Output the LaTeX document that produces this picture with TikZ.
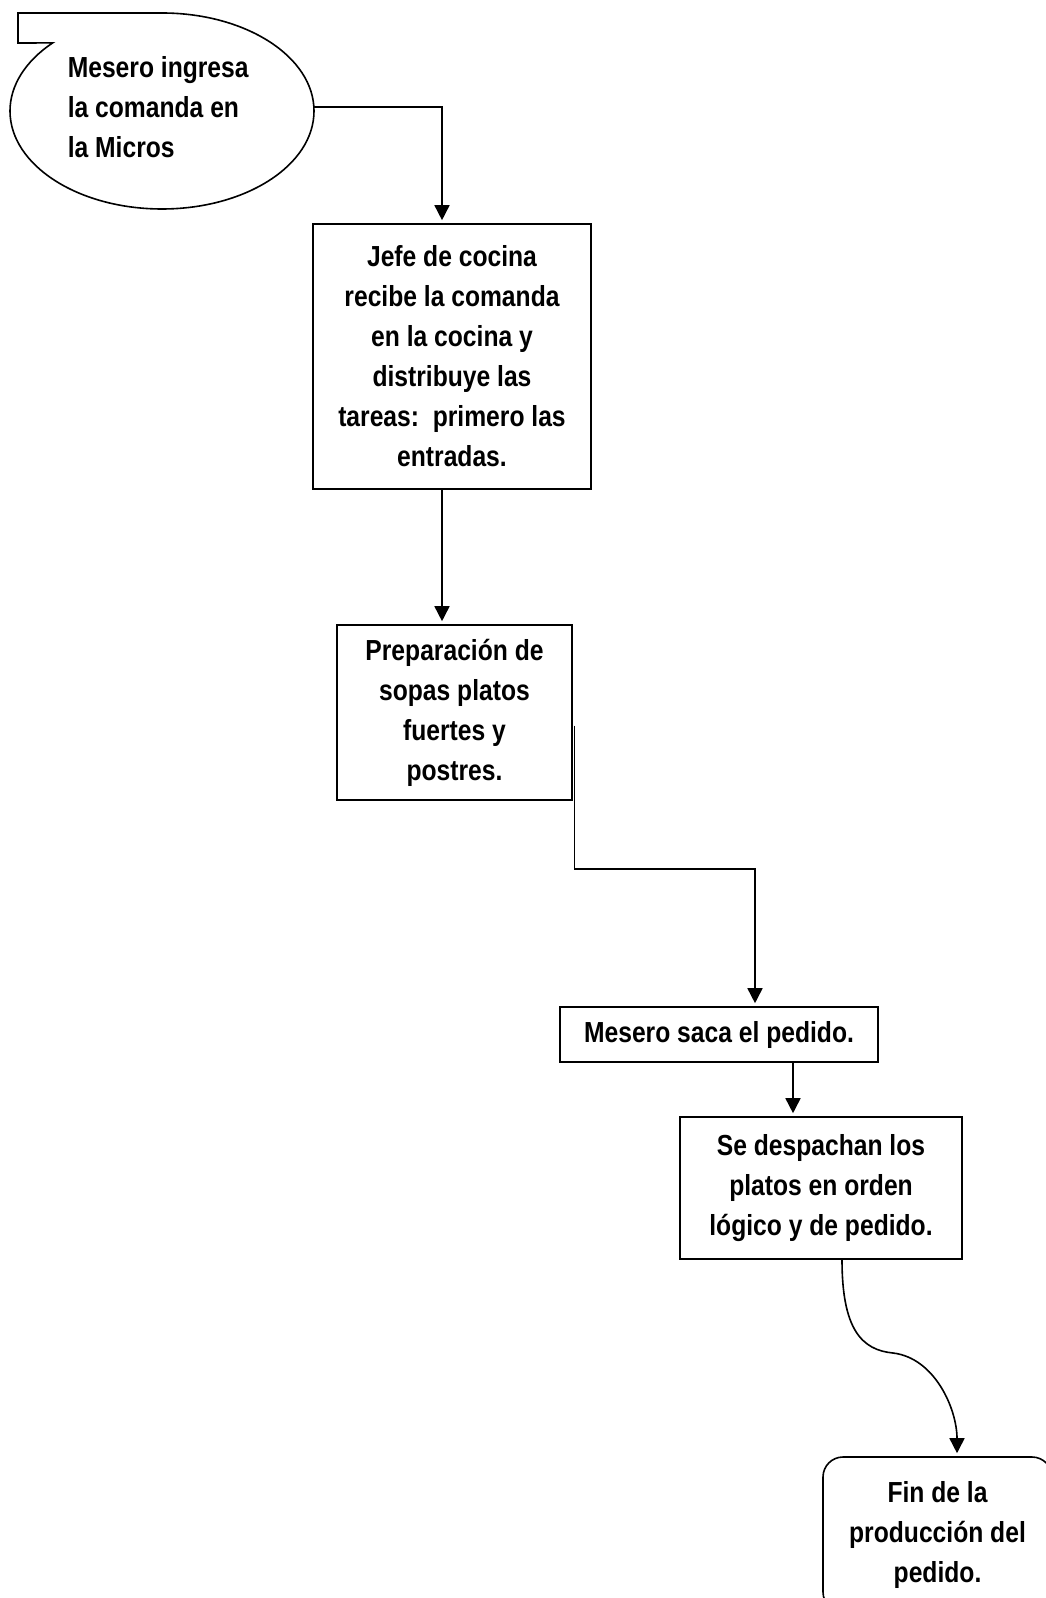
\documentclass[tikz,border=0pt]{standalone}
\usepackage{fontspec}
\setmainfont{Liberation Sans}[FakeStretch=0.85]
\usetikzlibrary{arrows.meta}
\begin{document}
\begin{tikzpicture}[x=0.5pt,y=0.5pt, line width=0.8pt,
  every node/.style={font=\bfseries\fontsize{14.5pt}{20pt}\selectfont},
  procbox/.style={draw, rectangle, inner sep=0pt, align=center},
  endbox/.style={draw, rectangle, rounded corners=10pt, inner sep=0pt, align=center},
  arr/.style={-{Triangle[length=7.5pt,width=7.5pt]}, shorten >=1.5pt}]
\useasboundingbox (0,0) rectangle (1045,-1598);
% callout
\draw (18,-13) -- (162,-13) arc[start angle=90, end angle=-224, x radius=152, y radius=98] -- (18,-43) -- cycle;
\node[anchor=west, align=left, inner sep=0pt] (c1) at (67,-107) {Mesero ingresa\\la comanda en\\la Micros};
\coordinate (c1e) at (314,-107);
\coordinate (j1) at (442,0);
\coordinate (j3) at (793,0);
\coordinate (k2) at (755,-869);
\coordinate (j4) at (842,0);
\coordinate (j5) at (957,0);
\coordinate (m4) at (893,-1353);
% boxes
\node[procbox, minimum width=139pt, minimum height=132.5pt] (b1) at (452,-356.5)
  {Jefe de cocina\\recibe la comanda\\en la cocina y\\distribuye las\\tareas:\ \ primero las\\entradas.};
\node[procbox, minimum width=117.5pt, minimum height=87.5pt] (b2) at (454.5,-712.5)
  {Preparación de\\sopas platos\\fuertes y\\postres.};
\node[procbox, minimum width=159pt, minimum height=27.5pt] (b3) at (719,-1034.5)
  {Mesero saca el pedido.};
\node[procbox, minimum width=141pt, minimum height=71pt] (b4) at (821,-1188)
  {Se despachan los\\platos en orden\\lógico y de pedido.};
\node[endbox, minimum width=114.5pt, minimum height=77.5pt] (fin) at (937.5,-1534.5)
  {Fin de la\\producción del\\pedido.};
% connectors
\draw[arr] (c1e) -| (b1.north -| j1);
\draw[arr] (b1.south -| j1) -- (b2.north -| j1);
\draw[arr] ([xshift=0.75pt,yshift=-6.5pt]b2.east) |- (k2) -- (b3.north -| k2);
\draw[arr] (b3.south -| j3) -- (b4.north -| j3);
\draw[arr] (b4.south -| j4) .. controls +(0,-70) and +(-31,3) .. (m4)
  .. controls +(42,-5) and +(0,47) .. (fin.north -| j5);
\end{tikzpicture}
\end{document}
